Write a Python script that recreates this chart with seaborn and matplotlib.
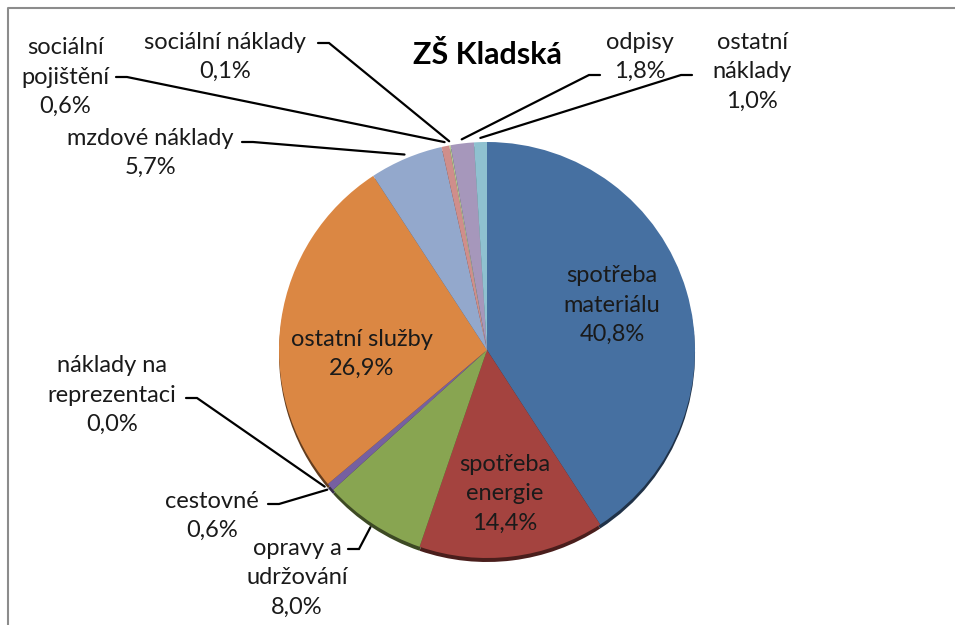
import numpy as np
import matplotlib
matplotlib.use("Agg")
import matplotlib.pyplot as plt
import seaborn as sns

sns.set_theme(style="white")
plt.rcParams["font.family"] = ["Lato", "Noto Sans", "DejaVu Sans"]

# Data
categories = ["spotřeba\nmateriálu", "spotřeba\nenergie", "opravy a\nudržování", "cestovné",
              "náklady na\nreprezentaci", "ostatní služby", "mzdové náklady", "sociální\npojištění",
              "sociální náklady", "odpisy", "ostatní\nnáklady"]
values = [40.8, 14.4, 8.0, 0.6, 0.0, 26.9, 5.7, 0.6, 0.1, 1.8, 1.0]
colors = ["#4670A1", "#A4433F", "#88A551", "#7660A0", "#3F9DB6", "#DB8743",
          "#93A8CC", "#CF8E8B", "#B5CB8F", "#A697BB", "#8FC1D0"]

W, H = 955, 625
fig = plt.figure(figsize=(W / 100, H / 100), dpi=100)
ax = fig.add_axes([0, 0, 1, 1])

def py(y):
    # pixel row (from top) -> data y
    return H - y

cx, cy, r = 487, 350, 208

# dark rim shadow below the pie
dark = [tuple(c * 0.45 for c in matplotlib.colors.to_rgb(col)) for col in colors]
ax.pie(values, colors=dark, startangle=90, counterclock=False,
       center=(cx, py(cy + 4)), radius=r, frame=True,
       wedgeprops=dict(linewidth=0))
wedges, _ = ax.pie(values, colors=colors, startangle=90, counterclock=False,
                   center=(cx, py(cy)), radius=r, frame=True,
                   wedgeprops=dict(linewidth=0))
ax.set_xlim(0, W)
ax.set_ylim(0, H)
ax.axis("off")

fs = 17
ls = 1.5
pct = [f"{v:.1f}%".replace(".", ",") for v in values]

# label layout: text centre, leader start (or None for inside labels)
layout = {
    0: ((612, 305), None),
    1: ((505, 494), None),
    2: ((297, 578), (348, 549, 1)),
    3: ((212, 516), (268, 504, 1)),
    4: ((112, 395), (186, 398, 1)),
    5: ((362, 354), None),
    6: ((150, 153), (242, 142, 1)),
    7: ((65, 77), (116, 77, 1)),
    8: ((225, 57), (318, 43, 1)),
    9: ((640, 57), (600, 75, -1)),
    10: ((752, 72), (692, 75, -1)),
}

for i, w in enumerate(wedges):
    (tx, ty), lead = layout[i]
    ax.text(tx, py(ty), f"{categories[i]}\n{pct[i]}", ha="center", va="center",
            fontsize=fs, linespacing=ls, color="#1a1a1a")
    if lead is not None:
        sx, sy, d = lead
        mid = np.deg2rad((w.theta1 + w.theta2) / 2)
        ex = w.center[0] + r * 1.02 * np.cos(mid)
        ey = w.center[1] + r * 1.02 * np.sin(mid)
        ax.plot([sx, sx + 11 * d, ex], [py(sy), py(sy), ey], color="black", lw=1.6,
                solid_joinstyle="miter")

ax.text(487, py(55), "ZŠ Kladská", ha="center", va="center", fontsize=22,
        fontweight="bold", color="black")

# chart frame (cropped on right and bottom)
ax.plot([8, 8, W + 5], [-5, py(8), py(8)], color="#8c8c8c", lw=1.5, clip_on=False)

fig.savefig("out.png", dpi=100)
